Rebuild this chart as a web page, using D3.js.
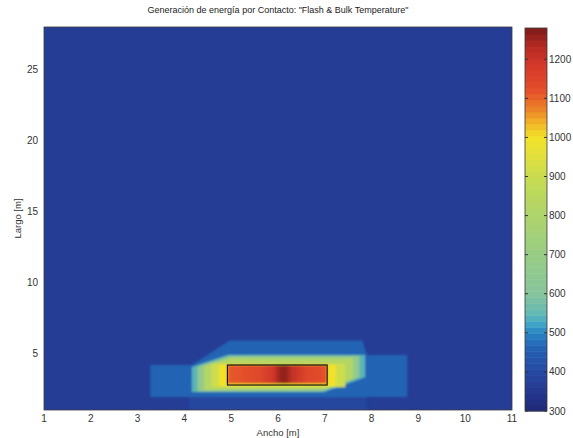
<!DOCTYPE html>
<html><head><meta charset="utf-8">
<script src="https://cdn.jsdelivr.net/npm/d3@7"></script>
<style>body{margin:0;background:#fff;} svg{display:block;font-family:"Liberation Sans",Arial,sans-serif;}</style>
</head><body><svg id="c" width="573" height="438"></svg>
<script>
// ---- data ----
const xTicks = [1,2,3,4,5,6,7,8,9,10,11];
const yTicks = [5,10,15,20,25];
const cbTicks = [300,400,500,600,700,800,900,1000,1100,1200];
const xDomain = [1, 11];
const yDomain = [1, 28];
const cDomain = [300, 1280];
// colormap stops (value -> colour)
const cmapValues = [300,340,370,400,440,470,500,520,550,600,700,800,900,960,1000,1040,1080,1120,1180,1230,1280];
const cmapColors = ["#1f2878","#22348a","#263e96","#2548a0","#2558ae","#2468b6","#2a84c4","#3ca2c8","#62b8b4","#86c49c","#98cc84","#aed46c","#c8dc50","#e4e03a","#f2e22a","#f2b028","#ea7a28","#e4502a","#d63a2a","#b82c24","#7c1c18"];
// temperature regions (x [m], y [m]) and their values
const backgroundValue = 368;
const bottomStrip = [[4.1,1],[7.9,1],[7.9,1.92],[4.1,1.92]];
const bottomStripValue = 395;
const outerRegion = [[3.27,1.92],[3.27,4.17],[4.16,4.17],[4.97,5.9],[7.8,5.9],[7.9,4.87],[8.76,4.87],[8.76,1.92]];
const outerValue = 462;
const greenEdge = [[4.16,2.27],[4.16,4.03],[4.93,4.87],[7.86,4.87],[7.86,3.3],[7.05,2.35],[7.0,2.27]];
const greenEdgeValue = 545;
const greenMid = [[4.28,2.32],[4.28,4.05],[4.98,4.8],[7.74,4.8],[7.74,3.3],[7.0,2.4],[6.9,2.32]];
const greenMidValue = 680;
const greenInner = [[4.42,2.4],[4.42,4.1],[5.0,4.66],[7.6,4.64],[7.6,3.2],[7.0,2.46]];
const greenInnerValue = 820;
const yellowOuter = [[4.58,2.58],[4.58,4.26],[7.44,4.26],[7.44,2.6]];
const yellowOuterValue = 910;
const yellowInner = [[4.74,2.68],[4.74,4.21],[7.24,4.21],[7.24,2.7]];
const yellowInnerValue = 995;
const contactBox = [4.92, 7.05, 2.76, 4.17]; // x0, x1, y0, y1
const boxProfileX = [4.92, 5.3, 5.6, 5.9, 6.05, 6.15, 6.3, 6.6, 6.9, 7.05];
const boxProfileV = [1110, 1125, 1140, 1190, 1255, 1265, 1210, 1150, 1130, 1115];

// ---- layout ----
const svg = d3.select("#c");
const P = {l:44, r:512, t:27, b:410};
const x = d3.scaleLinear().domain(xDomain).range([P.l, P.r]);
const y = d3.scaleLinear().domain(yDomain).range([P.b, P.t]);
const color = d3.scaleLinear().domain(cmapValues).range(cmapColors).interpolate(d3.interpolateRgb).clamp(true);
const CB = {l:525, r:547, t:28, b:411};
const cy = d3.scaleLinear().domain(cDomain).range([CB.b, CB.t]);

const defs = svg.append("defs");
defs.append("clipPath").attr("id","plotclip").append("rect")
  .attr("x",P.l).attr("y",P.t).attr("width",P.r-P.l).attr("height",P.b-P.t);
defs.append("filter").attr("id","soft").attr("x","-5%").attr("y","-20%").attr("width","110%").attr("height","140%")
  .append("feGaussianBlur").attr("stdDeviation",1.3);
const grad = defs.append("linearGradient").attr("id","boxgrad").attr("gradientUnits","userSpaceOnUse")
  .attr("x1",x(contactBox[0])).attr("x2",x(contactBox[1])).attr("y1",0).attr("y2",0);
grad.selectAll("stop").data(boxProfileX).join("stop")
  .attr("offset",(d)=> (d-contactBox[0])/(contactBox[1]-contactBox[0]))
  .attr("stop-color",(d,i)=>color(boxProfileV[i]));

// background
svg.append("rect").attr("x",x(xDomain[0])).attr("y",y(yDomain[1]))
  .attr("width",x(xDomain[1])-x(xDomain[0])).attr("height",y(yDomain[0])-y(yDomain[1]))
  .attr("fill",color(backgroundValue));

const line = d3.line().x(d=>x(d[0])).y(d=>y(d[1])).curve(d3.curveLinearClosed);
const heat = svg.append("g").attr("clip-path","url(#plotclip)").append("g").attr("filter","url(#soft)");
const layers = [
  [bottomStrip,bottomStripValue],[outerRegion,outerValue],[greenEdge,greenEdgeValue],
  [greenMid,greenMidValue],[greenInner,greenInnerValue],[yellowOuter,yellowOuterValue],[yellowInner,yellowInnerValue]
];
heat.selectAll("path.band").data(layers).join("path").attr("class","band")
  .attr("d",d=>line(d[0])).attr("fill",d=>color(d[1]));
heat.append("rect").attr("x",x(contactBox[0])).attr("width",x(contactBox[1])-x(contactBox[0]))
  .attr("y",y(contactBox[3])).attr("height",y(contactBox[2]+0.1)-y(contactBox[3]))
  .attr("fill","url(#boxgrad)");
// contact box outline
svg.append("rect").attr("x",x(contactBox[0])).attr("width",x(contactBox[1])-x(contactBox[0]))
  .attr("y",y(contactBox[3])).attr("height",y(contactBox[2])-y(contactBox[3]))
  .attr("fill","none").attr("stroke","#1a1410").attr("stroke-width",1.2);

// axes frame
svg.append("rect").attr("x",P.l).attr("y",P.t).attr("width",P.r-P.l).attr("height",P.b-P.t)
  .attr("fill","none").attr("stroke","#3a3a3a").attr("stroke-width",0.8);

// x tick labels
svg.append("g").selectAll("text").data(xTicks).join("text")
  .attr("x",d=>x(d)).attr("y",P.b+12).attr("text-anchor","middle")
  .attr("font-size",10).attr("fill","#333").text(d=>d);
// y tick labels
svg.append("g").selectAll("text").data(yTicks).join("text")
  .attr("x",P.l-6).attr("y",d=>y(d)+3.5).attr("text-anchor","end")
  .attr("font-size",10).attr("fill","#333").text(d=>d);

// titles
svg.append("text").attr("x",(P.l+P.r)/2).attr("y",13).attr("text-anchor","middle")
  .attr("font-size",9).attr("fill","#222").text('Generación de energía por Contacto: "Flash & Bulk Temperature"');
svg.append("text").attr("x",(P.l+P.r)/2).attr("y",436).attr("text-anchor","middle")
  .attr("font-size",9.5).attr("fill","#333").text("Ancho [m]");
svg.append("text").attr("transform",`translate(21,${(P.t+P.b)/2}) rotate(-90)`).attr("text-anchor","middle")
  .attr("font-size",9.5).attr("fill","#333").text("Largo [m]");

// colourbar
const nSteps = 64;
const stepVals = d3.range(nSteps).map(i => cDomain[0] + (i+0.5)*(cDomain[1]-cDomain[0])/nSteps);
const stepH = (cDomain[1]-cDomain[0])/nSteps;
svg.append("g").selectAll("rect").data(stepVals).join("rect")
  .attr("x",CB.l).attr("width",CB.r-CB.l)
  .attr("y",d=>cy(d+stepH/2)).attr("height",d=>cy(d-stepH/2)-cy(d+stepH/2)+0.5)
  .attr("fill",d=>color(d));
svg.append("rect").attr("x",CB.l).attr("y",CB.t).attr("width",CB.r-CB.l).attr("height",CB.b-CB.t)
  .attr("fill","none").attr("stroke","#3a3a3a").attr("stroke-width",0.8);
const cbt = svg.append("g");
cbt.selectAll("line.l").data(cbTicks).join("line").attr("class","l")
  .attr("x1",CB.l).attr("x2",CB.l+3).attr("y1",d=>cy(d)).attr("y2",d=>cy(d)).attr("stroke","#333");
cbt.selectAll("line.r").data(cbTicks).join("line").attr("class","r")
  .attr("x1",CB.r-3).attr("x2",CB.r).attr("y1",d=>cy(d)).attr("y2",d=>cy(d)).attr("stroke","#333");
cbt.selectAll("text").data(cbTicks).join("text")
  .attr("x",CB.r+2).attr("y",d=>cy(d)+3.5).attr("font-size",10).attr("fill","#333").text(d=>d);
</script></body></html>
